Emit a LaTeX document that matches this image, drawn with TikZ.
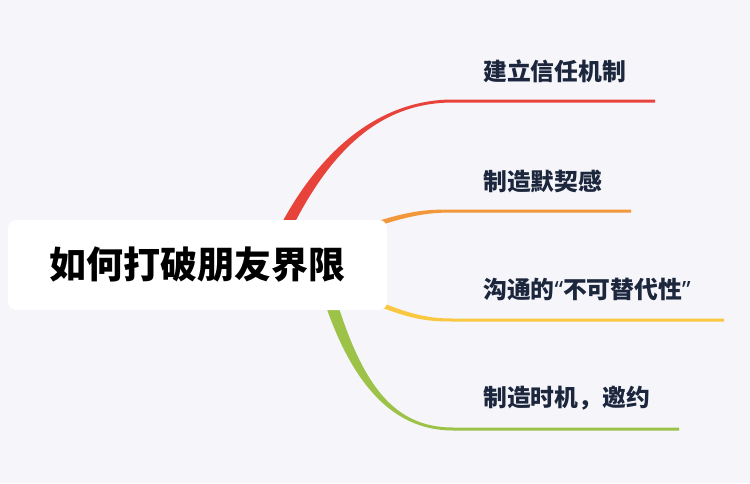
\documentclass[tikz,border=0pt]{standalone}
\usepackage{fontspec}
\newfontfamily\cjk{Noto Sans CJK SC}
\newfontfamily\latn{Noto Sans}
\usetikzlibrary{positioning,calc}
\definecolor{bg}{RGB}{245,245,250}
\definecolor{ink}{RGB}{28,38,60}
\definecolor{br1}{RGB}{232,67,58}
\definecolor{br2}{RGB}{243,152,58}
\definecolor{br3}{RGB}{250,200,64}
\definecolor{br4}{RGB}{156,194,72}
\newcommand{\quotemark}[1]{{\latn\bfseries #1}}
\begin{document}
\begin{tikzpicture}[x=1pt,y=-1pt,
  topic/.style={fill=white,rounded corners=8pt,minimum width=379pt,minimum height=90pt,inner sep=0pt,
    font=\cjk\bfseries\fontsize{37}{40}\selectfont},
  sub/.style={anchor=west,inner sep=0pt,text=ink,font=\cjk\bfseries\fontsize{23.8}{26}\selectfont}]
\fill[bg] (0,0) rectangle (750,483);
% branches: curve from behind the topic, then the underline
\foreach \c/\sx/\sy/\ax/\ay/\bx/\ey/\ex/\ox/\oy in {
  br1/275/250/320/150/380/101/655/6.5/0,
  br2/365/228/410/212/430/211/631/0/2.5,
  br3/365/298/410/318/430/320/724/0/2.5,
  br4/320/265/350/380/390/429/679/-6.5/0}
  \fill[\c] (\sx-\ox,\sy-\oy) .. controls (\ax-\ox,\ay-\oy) and (\bx,\ey-1.5) .. (453,\ey-1.5)
    -- (\ex,\ey-1.5) -- (\ex,\ey+1.5) -- (453,\ey+1.5)
    .. controls (\bx,\ey+1.5) and (\ax+\ox,\ay+\oy) .. (\sx+\ox,\sy+\oy) -- cycle;
\node[topic] (root) at (197.5,265) {如何打破朋友界限};
\node[sub] (s1) at (483,71) {建立信任机制};
\node[sub] (s2) at (483,181) {制造默契感};
\node[sub] (s3) at (483,289) {沟通的\quotemark{“}不可替代性\quotemark{”}};
\node[sub] (s4) at (483,398) {制造时机，邀约};
\end{tikzpicture}
\end{document}
